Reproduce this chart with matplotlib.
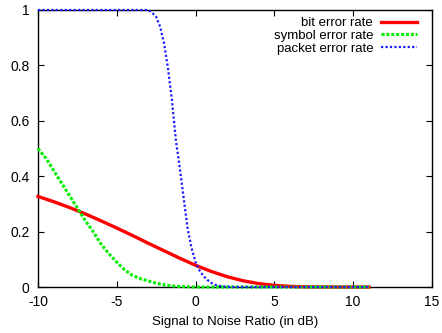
import matplotlib.pyplot as plt

plt.rcParams['font.family'] = ['Liberation Sans', 'DejaVu Sans']
plt.rcParams['axes.unicode_minus'] = False

# bit error rate
snr_ber = [-10, -9, -8, -7, -6, -5, -4, -3, -2, -1, 0, 1, 2, 3, 4, 5, 6, 7, 8, 9, 10, 11]
ber = [0.327, 0.308, 0.287, 0.264, 0.239, 0.213, 0.186, 0.158, 0.131, 0.104, 0.0786,
       0.0563, 0.0375, 0.0229, 0.0125, 0.0060, 0.0024, 0.0008, 0.0002, 0.00003, 0.0, 0.0]

# symbol error rate
snr_ser = [-10, -9.5, -9, -8.5, -8, -7.5, -7, -6.5, -6, -5.5, -5, -4.5, -4, -3.5, -3,
           -2.5, -2, -1.5, -1, -0.5, 0, 1, 2, 4, 6, 8, 10, 11]
ser = [0.50, 0.465, 0.42, 0.375, 0.33, 0.285, 0.24, 0.20, 0.155, 0.12, 0.09, 0.062,
       0.042, 0.03, 0.022, 0.014, 0.008, 0.004, 0.002, 0.001, 0.0, 0.0, 0.0, 0.0,
       0.0, 0.0, 0.0, 0.0]

# packet error rate
snr_per = [-10, -6, -4, -3, -2.75, -2.5, -2.25, -2, -1.75, -1.5, -1.25, -1, -0.75,
           -0.5, -0.25, 0, 0.25, 0.5, 0.75, 1, 1.25, 1.5, 2, 3, 5, 8, 11]
per = [1.0, 1.0, 1.0, 1.0, 0.99, 0.975, 0.94, 0.88, 0.79, 0.675, 0.53, 0.43, 0.32,
       0.21, 0.14, 0.09, 0.06, 0.04, 0.026, 0.015, 0.008, 0.004, 0.001, 0.0, 0.0,
       0.0, 0.0]

fig = plt.figure(figsize=(4.42, 3.33), dpi=100)
ax = fig.add_axes([0.086, 0.138, 0.891, 0.832])

ax.plot(snr_ber, ber, color='#ff0000', lw=2.4, label='bit error rate',
        zorder=3, clip_on=False)
ax.plot(snr_ser, ser, color='#00ee00', lw=2.2, ls=(0, (1, 0.6)), label='symbol error rate',
        zorder=3, clip_on=False)
ax.plot(snr_per, per, color='#1a1aff', lw=1.6, ls=(0, (1, 1)), label='packet error rate',
        zorder=3, clip_on=False)

ax.set_xlim(-10, 15)
ax.set_ylim(0, 1)
ax.set_xticks([-10, -5, 0, 5, 10, 15])
ax.set_yticks([0, 0.2, 0.4, 0.6, 0.8, 1])
ax.set_yticklabels(['0', '0.2', '0.4', '0.6', '0.8', '1'])
ax.tick_params(direction='in', length=4, width=0.8, top=True, right=True,
               labelsize=10, pad=6)
for s in ax.spines.values():
    s.set_linewidth(1.0)

ax.set_xlabel('Signal to Noise Ratio (in dB)', fontsize=9.5, labelpad=5)

ax.legend(loc='upper right', bbox_to_anchor=(0.975, 0.993), frameon=False,
          markerfirst=False, fontsize=9.5, handlelength=2.7, labelspacing=0.03,
          handletextpad=0.6, borderaxespad=0.0)

fig.savefig('out.png', dpi=100)
